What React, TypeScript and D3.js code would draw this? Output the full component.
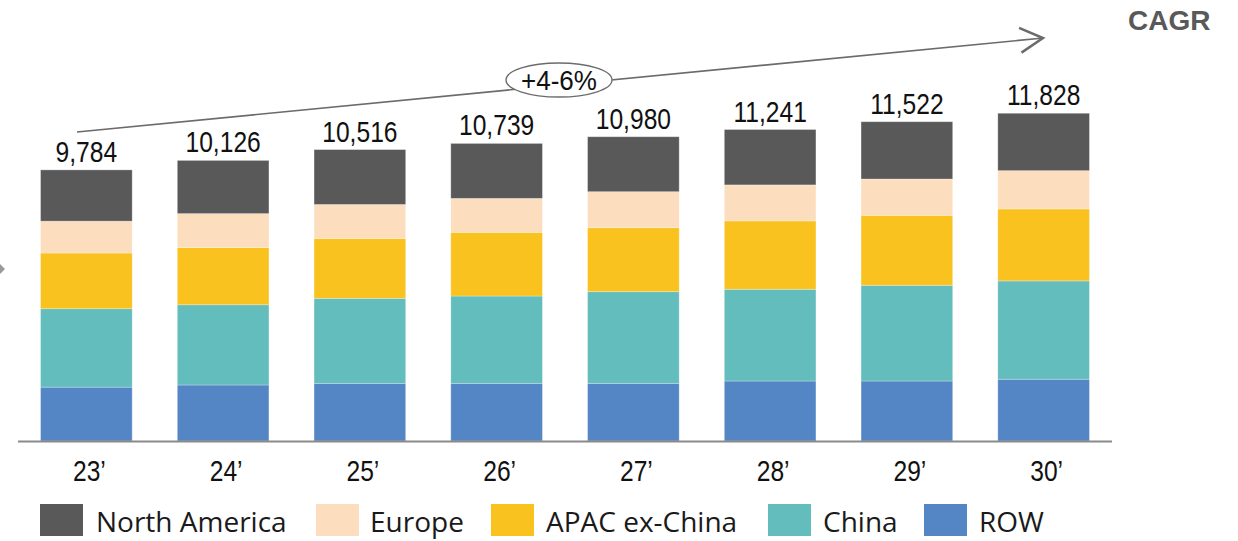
import React from "react";
import * as d3 from "d3";

const years = ["23’", "24’", "25’", "26’", "27’", "28’", "29’", "30’"];
const totals = [9784, 10126, 10516, 10739, 10980, 11241, 11522, 11828];
const row = [1944, 2021, 2082, 2082, 2082, 2165, 2165, 2230];
const china = [2830, 2895, 3067, 3150, 3306, 3310, 3454, 3547];
const apac = [2010, 2065, 2162, 2299, 2310, 2468, 2526, 2598];
const europe = [1150, 1225, 1225, 1225, 1299, 1299, 1310, 1382];
const northAmerica = [1850, 1920, 1980, 1983, 1983, 1999, 2067, 2071];

const seriesNames = ["ROW", "China", "APAC ex-China", "Europe", "North America"];
const seriesColors = ["#5486C6", "#62BDBC", "#F9C21F", "#FCDDBD", "#595959"];
const legendOrder = ["North America", "Europe", "APAC ex-China", "China", "ROW"];
const cagrLabel = "+4-6%";

const W = 1238;
const H = 541;
const SANS = "'Liberation Sans', Arial, sans-serif";
const LEGEND_FONT = "'Open Sans', sans-serif";

export default function App() {
  const rows = years.map((y, i) => ({
    year: y,
    ROW: row[i],
    China: china[i],
    "APAC ex-China": apac[i],
    Europe: europe[i],
    "North America": northAmerica[i],
  }));
  const stack = d3.stack<any>().keys(seriesNames)(rows);

  const x = d3
    .scaleBand<string>()
    .domain(years)
    .range([18, 1112])
    .paddingInner(0.33)
    .paddingOuter(0.165);
  const y = d3.scaleLinear().domain([0, 10000]).range([441, 441 - 277.1]);

  const color = d3.scaleOrdinal<string, string>().domain(seriesNames).range(seriesColors);

  // arrow
  const ax0 = 77, ay0 = 132, ax1 = 1043, ay1 = 38;
  const ang = Math.atan2(ay1 - ay0, ax1 - ax0);
  const headLen = 26, headAng = 0.5;
  const h1 = [ax1 - headLen * Math.cos(ang - headAng), ay1 - headLen * Math.sin(ang - headAng)];
  const h2 = [ax1 - headLen * Math.cos(ang + headAng), ay1 - headLen * Math.sin(ang + headAng)];

  const legendItems = [
    { name: legendOrder[0], sx: 40, tx: 96 },
    { name: legendOrder[1], sx: 316, tx: 370 },
    { name: legendOrder[2], sx: 491, tx: 546 },
    { name: legendOrder[3], sx: 768, tx: 823 },
    { name: legendOrder[4], sx: 924, tx: 979 },
  ];

  const narrowText = (key: string, cx: number, by: number, label: string, size = 30, sx = 0.82) => (
    <text
      key={key}
      transform={`translate(${cx},${by}) scale(${sx},1)`}
      textAnchor="middle"
      fontFamily={SANS}
      fontSize={size}
      fill="#111"
    >
      {label}
    </text>
  );

  return (
    <svg
      width={W}
      height={H}
      style={{ position: "absolute", left: 0, top: 0, background: "#fff" }}
    >
      {/* left edge marker */}
      <path d="M0,264 L5,269 L0,274 Z" fill="#999" />

      {/* bars */}
      {stack.map((s) => (
        <g key={s.key}>
          {s.map((d, i) => (
            <rect
              key={i}
              x={x(years[i])}
              y={y(d[1])}
              width={x.bandwidth()}
              height={y(d[0]) - y(d[1])}
              fill={color(s.key)}
              stroke="#ffffff"
              strokeOpacity={0.35}
              strokeWidth={0.8}
            />
          ))}
        </g>
      ))}

      {/* total labels */}
      {years.map((yr, i) => {
        const top = y(stack[stack.length - 1][i][1]);
        return narrowText(
          "t" + yr,
          (x(yr) as number) + x.bandwidth() / 2,
          top - 8,
          d3.format(",")(totals[i])
        );
      })}

      {/* axis */}
      <line x1={18} x2={1112} y1={441.5} y2={441.5} stroke="#8a8a8a" strokeWidth={2} />
      {years.map((yr) =>
        narrowText("y" + yr, (x(yr) as number) + x.bandwidth() / 2 + 3, 481, yr)
      )}

      {/* CAGR arrow */}
      <line x1={ax0} y1={ay0} x2={ax1 - 2} y2={ay1 + 0.2} stroke="#6b6b6b" strokeWidth={1.6} />
      <polyline
        points={`${h1[0]},${h1[1]} ${ax1},${ay1} ${h2[0]},${h2[1]}`}
        fill="none"
        stroke="#6b6b6b"
        strokeWidth={2.5}
      />
      <ellipse cx={559} cy={80} rx={53} ry={17} fill="#fff" stroke="#6b6b6b" strokeWidth={1.3} />
      {narrowText("cagrv", 559, 90, cagrLabel, 28, 0.93)}
      <text
        x={1128}
        y={30}
        fontFamily={SANS}
        fontWeight="bold"
        fontSize={28}
        fill="#595959"
      >
        CAGR
      </text>

      {/* legend */}
      {legendItems.map((it) => (
        <g key={it.name}>
          <rect x={it.sx} y={504} width={43} height={32} fill={color(it.name)} />
          <text x={it.tx} y={531.5} fontFamily={LEGEND_FONT} fontSize={28} fill="#1a1a1a">
            {it.name}
          </text>
        </g>
      ))}
    </svg>
  );
}
